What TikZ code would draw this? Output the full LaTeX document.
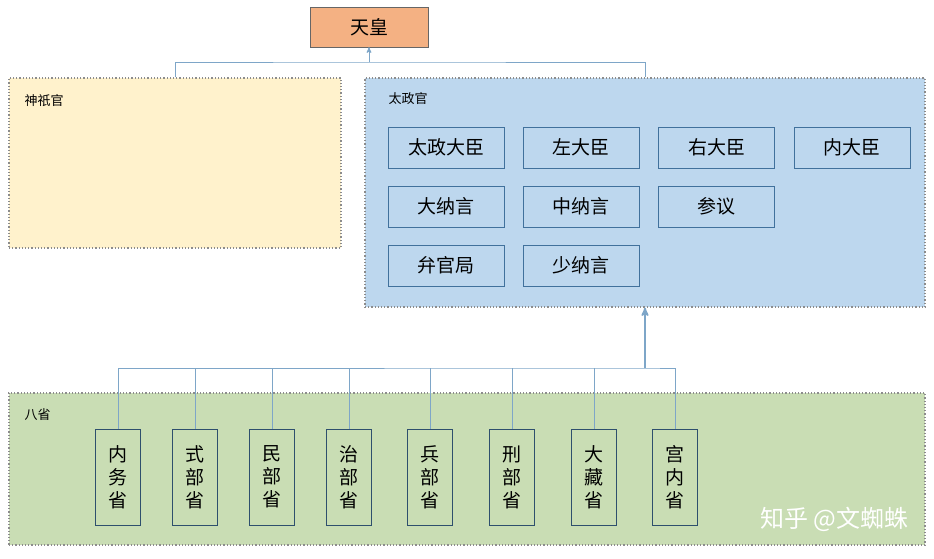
\documentclass[tikz,border=0pt]{standalone}
\usepackage{fontspec}
\setmainfont{Noto Sans CJK SC}
\usepackage{tikz}
\usetikzlibrary{arrows,positioning}
\definecolor{tenno}{HTML}{F4B183}
\definecolor{jingi}{HTML}{FFF2CC}
\definecolor{dajo}{HTML}{BDD7EE}
\definecolor{hassho}{HTML}{C9DDB4}
\definecolor{link}{HTML}{7EA6C8}
\definecolor{edge}{HTML}{41719C}

\begin{document}
\begin{tikzpicture}[x=1pt,y=-1pt,font=\fontsize{13}{15}\selectfont]
  \tikzstyle{office}=[draw=black!45,dotted,line width=1.2pt,inner sep=0pt]
  \tikzstyle{post}=[draw=edge,fill=dajo,minimum width=116pt,minimum height=41pt,
                    inner sep=0pt,font=\fontsize{19}{21}\selectfont]
  \tikzstyle{sho}=[draw=edge!70!black,minimum width=45pt,minimum height=96pt,inner sep=0pt,
                   align=center,font=\fontsize{19}{23}\selectfont]
  \tikzstyle{wire}=[draw=link,line width=1pt]

  \useasboundingbox (0,0) rectangle (934,558);

  \node[draw=black!60,fill=tenno,minimum width=118pt,minimum height=40pt,inner sep=0pt,
        font=\fontsize{19}{21}\selectfont] (T) at (369,27) {天皇};
  \node[office,fill=jingi,minimum width=332pt,minimum height=170pt] (J) at (175,163) {};
  \node[office,fill=dajo,minimum width=560pt,minimum height=229pt] (D) at (645,192.5) {};
  \node[office,fill=hassho,minimum width=916pt,minimum height=152pt] (H) at (467,469) {};

  \node[anchor=north west] at (21,91) {神祇官};
  \node[anchor=north west] at (385,89) {太政官};
  \node[anchor=north west] at (21,405) {八省};

  \node[post] (p1) at (446,147.5) {太政大臣};
  \node[post] (p2) at (581,147.5) {左大臣};
  \node[post] (p3) at (716.5,147.5) {右大臣};
  \node[post] (p4) at (852,147.5) {内大臣};
  \node[post] (p5) at (446,206.5) {大纳言};
  \node[post] (p6) at (581,206.5) {中纳言};
  \node[post] (p7) at (716.5,206.5) {参议};
  \node[post] (p8) at (446,265.5) {弁官局};
  \node[post] (p9) at (581,265.5) {少纳言};

  \foreach \name/\x/\txt in {s1/118/{内\\务\\省}, s2/195/{式\\部\\省}, s3/272/{民\\部\\省},
      s4/349/{治\\部\\省}, s5/430/{兵\\部\\省}, s6/512/{刑\\部\\省}, s7/594/{大\\藏\\省},
      s8/675/{宫\\内\\省}}
    \node[sho] (\name) at (\x,477) {\txt};

  \coordinate (top) at (369,62);
  \coordinate (bus) at (645,368);
  % upward links
  \draw[wire] (J.north) |- (top) -| (D.north);
  \draw[wire,->,>=stealth'] (top) -- (T.south);
  \draw[wire] (s1.north) |- (bus) -| (s8.north);
  \foreach \s in {s2,s3,s4,s5,s6,s7}
    \draw[wire] (\s.north) -- (\s.north |- bus);
  \draw[wire,line width=1.8pt,->,>=stealth'] (bus) -- (D.south -| bus);

  \node[anchor=south east,text=white,font=\fontsize{24}{26}\selectfont] (wm) at (912,535) {知乎 @文蜘蛛};
\end{tikzpicture}
\end{document}
